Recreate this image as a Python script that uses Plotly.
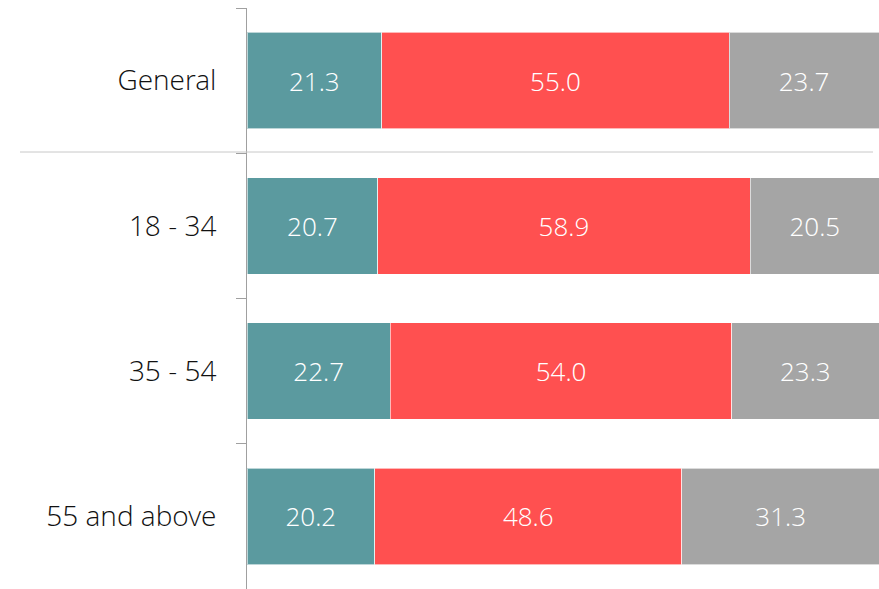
import plotly.graph_objects as go

categories = ["General", "18 - 34", "35 - 54", "55 and above"]
series_names = ["Agree", "Neutral", "Disagree"]
agree = [21.3, 20.7, 22.7, 20.2]
neutral = [55.0, 58.9, 54.0, 48.6]
disagree = [23.7, 20.5, 23.3, 31.3]
colors = ["#5B9A9F", "#FF5050", "#A5A5A5"]

FONT = "Open Sans Light, Open Sans, sans-serif"

fig = go.Figure()
for name, vals, col in zip(series_names, [agree, neutral, disagree], colors):
    fig.add_trace(go.Bar(
        y=categories, x=vals, name=name, orientation="h",
        marker=dict(color=col, line=dict(color="rgba(255,255,255,0.6)", width=1)),
        text=[f"{v:.1f}" for v in vals], textposition="inside",
        insidetextanchor="middle",
        textfont=dict(family=FONT, size=26, color="white", weight=300),
        hoverinfo="skip",
    ))

fig.update_layout(
    barmode="stack", bargap=0.335, showlegend=False,
    width=879, height=589,
    margin=dict(l=247, r=0, t=8, b=0),
    paper_bgcolor="white", plot_bgcolor="white",
    xaxis=dict(range=[0, 100], visible=False, showgrid=False, zeroline=False),
    yaxis=dict(
        categoryorder="array", categoryarray=categories, autorange="reversed",
        showline=True, linecolor="#A0A0A0", linewidth=1,
        ticks="outside", tickson="boundaries", ticklen=10, tickcolor="#A0A0A0",
        tickfont=dict(family=FONT, size=28, color="#111111", weight=300),
        ticklabelstandoff=24, showgrid=False,
    ),
    shapes=[dict(type="line", xref="paper", yref="paper",
                 x0=(20 - 247) / 632, x1=(873 - 247) / 632,
                 y0=1 - (152 - 8) / 581, y1=1 - (152 - 8) / 581,
                 line=dict(color="#C8C8C8", width=1))],
)

fig.write_html(
    "out.html",
    config={"displayModeBar": False},
    post_script="document.body.style.margin='0';document.body.style.overflow='hidden';",
)
